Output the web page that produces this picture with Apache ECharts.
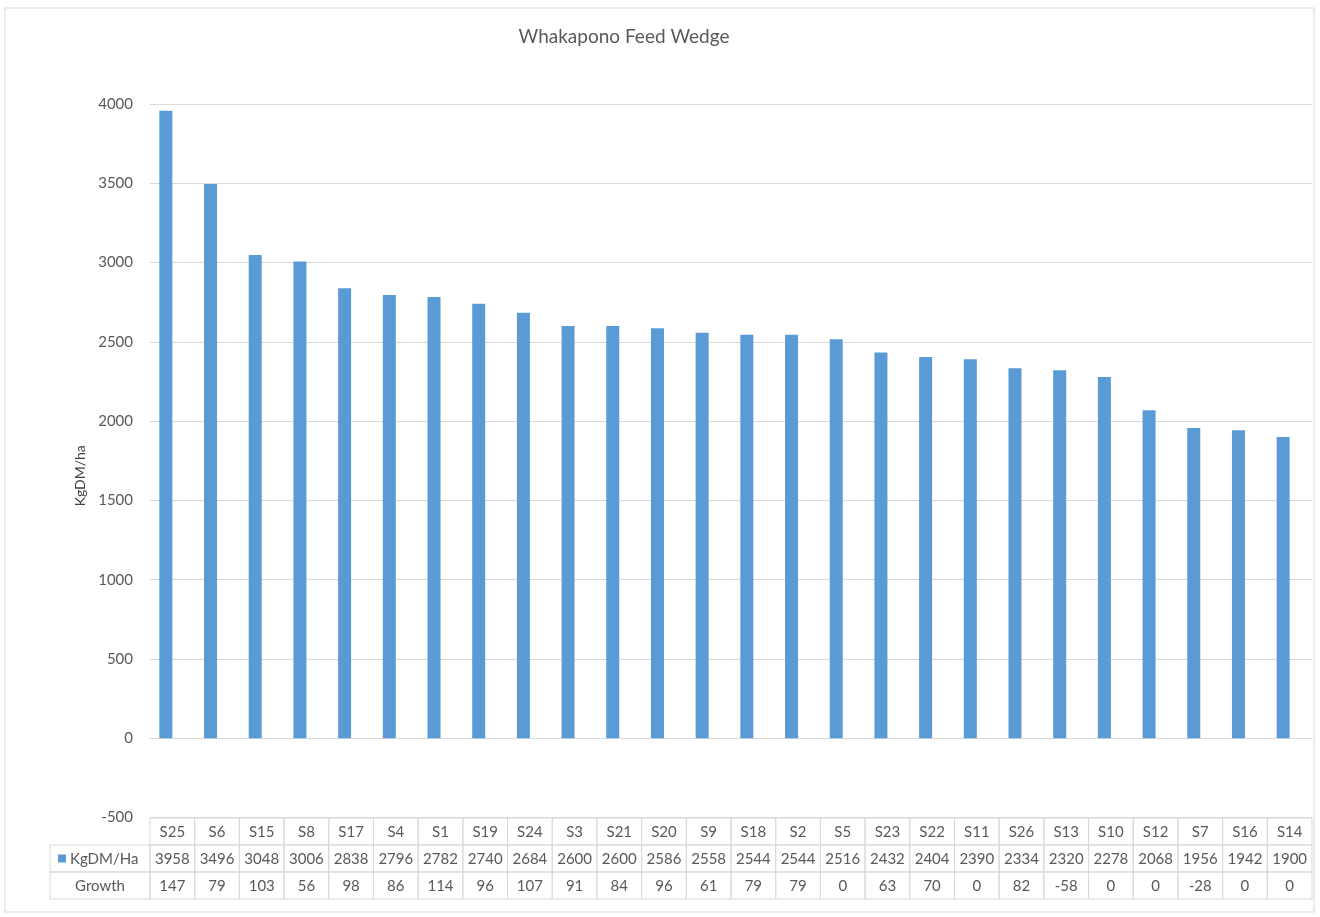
<!DOCTYPE html>
<html><head><meta charset="utf-8">
<script src="https://cdn.jsdelivr.net/npm/echarts@6/dist/echarts.min.js"></script>
<style>html,body{margin:0;padding:0;background:#fff}#c{width:1320px;height:917px}</style>
</head><body><div id="c"></div>
<script>
const categories = ['S25','S6','S15','S8','S17','S4','S1','S19','S24','S3','S21','S20','S9','S18','S2','S5','S23','S22','S11','S26','S13','S10','S12','S7','S16','S14'];
const kgValues = [3958,3496,3048,3006,2838,2796,2782,2740,2684,2600,2600,2586,2558,2544,2544,2516,2432,2404,2390,2334,2320,2278,2068,1956,1942,1900];
const growthValues = [147,79,103,56,98,86,114,96,107,91,84,96,61,79,79,0,63,70,0,82,-58,0,0,-28,0,0];
const rowHeaders = ['', 'KgDM/Ha', 'Growth'];
const tableRows = ['cat', 'kg', 'growth'];
const yMin = -500, yMax = 4000, yStep = 500;

const FONT = 'Lato';
const TXT = '#595959';
const LINE = '#D9D9D9';
const BAR = '#5B9BD5';

const rowTexts = [categories, kgValues, growthValues];
const tableData = [];
const tableText = [];
for (let r = 0; r < rowTexts.length; r++) {
  for (let i = 0; i < categories.length; i++) {
    tableData.push([i, r]);
    tableText.push(String(rowTexts[r][i]));
  }
}

const chart = echarts.init(document.getElementById('c'));
const GL = 150, GR = 8;
chart.setOption({
  backgroundColor: '#fff',
  animation: false,
  title: {
    text: 'Whakapono Feed Wedge', left: 619, top: 22, textAlign: 'center',
    textStyle: {fontFamily: FONT, fontSize: 19, fontWeight: 'normal', color: TXT}
  },
  graphic: [{type: 'rect', shape: {x: 5, y: 8, width: 1309, height: 904},
    style: {fill: 'none', stroke: LINE, lineWidth: 1}, silent: true}],
  grid: [
    {left: GL, right: GR, top: 104, bottom: 99.5},
    {left: GL, right: GR, top: 818, height: 81}
  ],
  xAxis: [
    {type: 'category', gridIndex: 0, data: categories,
     axisLine: {show: true, onZero: true, lineStyle: {color: LINE}},
     axisTick: {show: false}, axisLabel: {show: false}},
    {type: 'category', gridIndex: 1, data: categories,
     axisLine: {show: false}, axisTick: {show: false}, axisLabel: {show: false}}
  ],
  yAxis: [
    {type: 'value', gridIndex: 0, min: yMin, max: yMax, interval: yStep,
     name: 'KgDM/ha', nameLocation: 'middle', nameGap: 62, nameRotate: 90,
     nameTextStyle: {fontFamily: FONT, fontSize: 14, color: '#404040', padding: [0, 30, 0, 0]},
     axisLine: {show: false}, axisTick: {show: false},
     axisLabel: {fontFamily: FONT, fontSize: 15, color: TXT, margin: 17,
       formatter: function (v) { return String(v); }},
     splitLine: {lineStyle: {color: LINE}}},
    {type: 'category', gridIndex: 1, data: tableRows, inverse: true,
     axisLine: {show: false}, axisTick: {show: false}, axisLabel: {show: false}}
  ],
  series: [
    {name: 'KgDM/Ha', type: 'bar', xAxisIndex: 0, yAxisIndex: 0, data: kgValues,
     barWidth: 13, barGap: '0%', itemStyle: {color: BAR}},
    {name: 'Growth', type: 'bar', xAxisIndex: 0, yAxisIndex: 0, data: growthValues,
     barWidth: 13, barGap: '0%', itemStyle: {color: 'rgba(0,0,0,0)'}},
    {type: 'custom', xAxisIndex: 1, yAxisIndex: 1, data: tableData, clip: false,
     renderItem: function (params, api) {
       const i = api.value(0), r = api.value(1);
       const c = api.coord([i, r]);
       const s = api.size([1, 1]);
       const w = s[0], h = s[1];
       const x = c[0] - w / 2, y = c[1] - h / 2;
       const children = [
         {type: 'rect', shape: {x: x, y: y, width: w, height: h},
          style: {fill: 'none', stroke: LINE, lineWidth: 1}},
         {type: 'text', style: {x: c[0], y: c[1] + 1, text: tableText[params.dataIndex],
          align: 'center', verticalAlign: 'middle', fill: TXT, fontFamily: FONT, fontSize: 15}}
       ];
       if (i === 0 && r > 0) {
         const hx = 50;
         children.push({type: 'rect', shape: {x: hx, y: y, width: x - hx, height: h},
           style: {fill: 'none', stroke: LINE, lineWidth: 1}});
         if (r === 1) {
           children.push({type: 'rect', shape: {x: 58, y: c[1] - 4, width: 8, height: 8},
             style: {fill: BAR}});
           children.push({type: 'text', style: {x: 70, y: c[1] + 1, text: rowHeaders[r],
             align: 'left', verticalAlign: 'middle', fill: TXT, fontFamily: FONT, fontSize: 15}});
         } else {
           children.push({type: 'text', style: {x: (hx + x) / 2, y: c[1] + 1, text: rowHeaders[r],
             align: 'center', verticalAlign: 'middle', fill: TXT, fontFamily: FONT, fontSize: 15}});
         }
       }
       return {type: 'group', children: children};
     }}
  ]
});
</script>
</body></html>
